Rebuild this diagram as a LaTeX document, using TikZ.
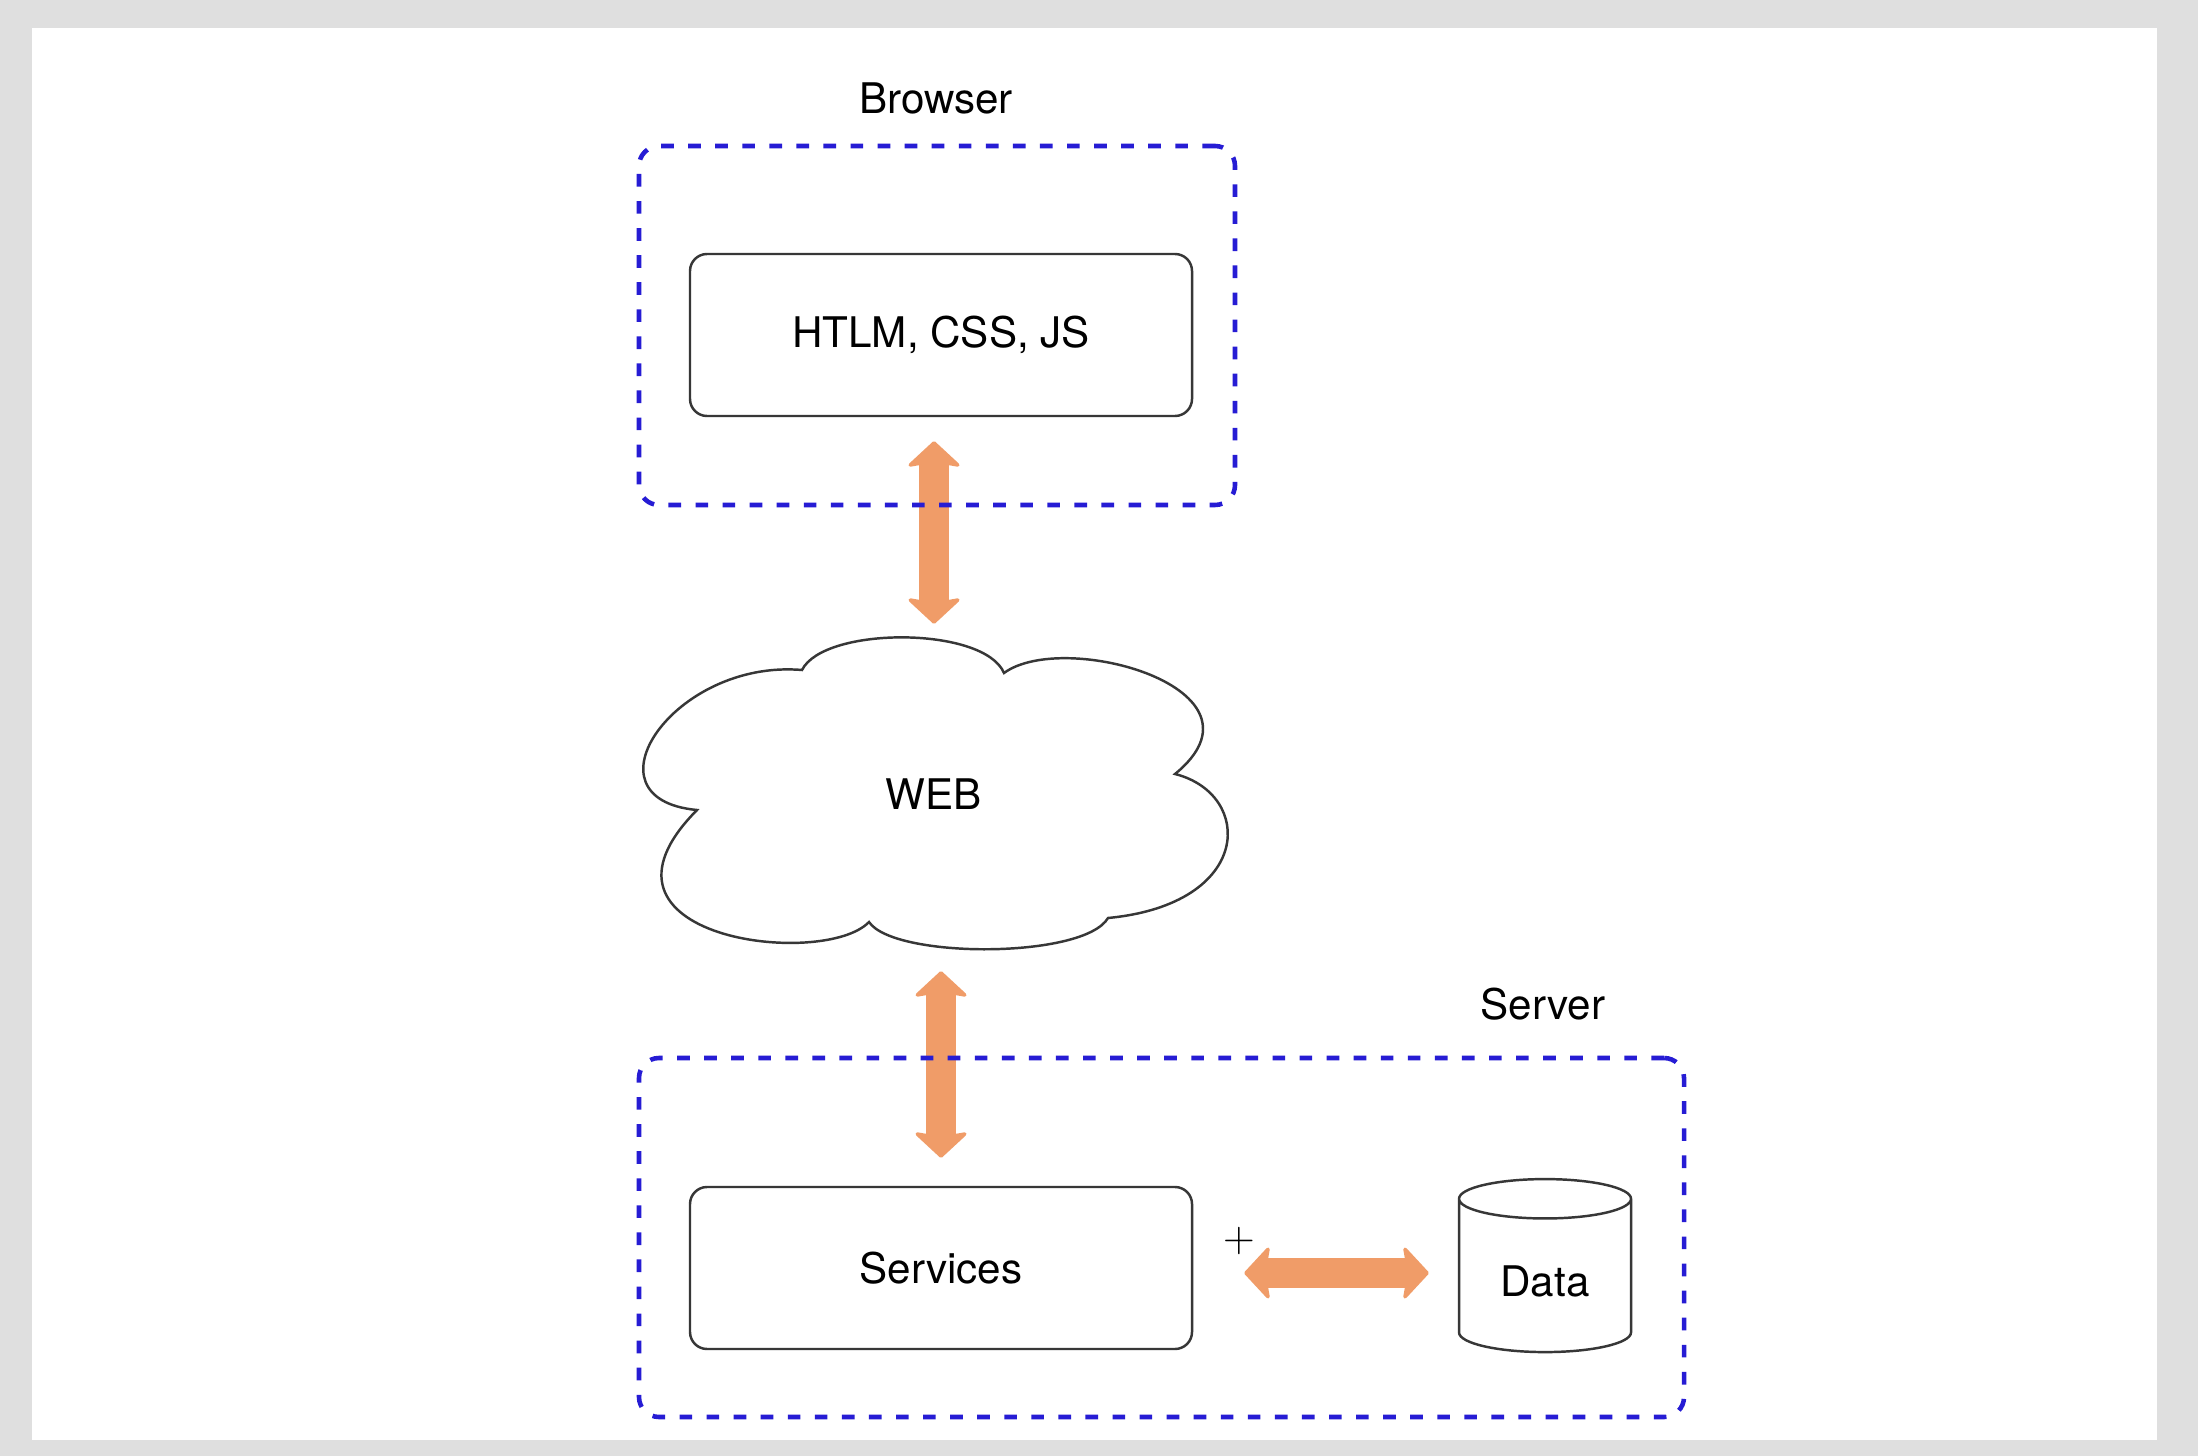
\documentclass[tikz,border=0pt]{standalone}
\usepackage{fontspec}
\setmainfont{TeX Gyre Heros}
\usetikzlibrary{arrows.meta,positioning,shapes.geometric}

\definecolor{pagegray}{RGB}{223,223,223}
\definecolor{linkorange}{RGB}{240,156,104}
\definecolor{zoneblue}{RGB}{38,28,212}
\definecolor{boxline}{RGB}{55,55,55}

\begin{document}
\begin{tikzpicture}[>={Stealth[length=0.27cm,width=0.58cm,inset=0.05cm,round,line width=1pt]},
  font=\fontsize{12}{14}\selectfont,node distance=2cm,
  layer/.style={draw=boxline,line width=0.7pt,rounded corners=0.17cm,minimum width=5.02cm,minimum height=1.62cm},
  net/.style={minimum width=5.86cm,minimum height=3.11cm},
  store/.style={draw=boxline,line width=0.7pt,cylinder,shape border rotate=90,aspect=0.35,minimum width=1.72cm,minimum height=1.73cm},
  zone/.style={draw=zoneblue,line width=1.3pt,dash pattern=on 3.6pt off 4.1pt,rounded corners=0.2cm,inner sep=0pt},
  link/.style={<->,color=linkorange,line width=0.3cm}]
\fill[pagegray] (0,0) rectangle (21.98,-14.56);
\fill[white] (0.32,-0.28) rectangle (21.57,-14.40);
\useasboundingbox (0,0) rectangle (21.98,-14.56);

\node[layer] (html) at (9.41,-3.35) {HTLM, CSS, JS};
\node[net] (web) [below of=html,node distance=4.59cm,xshift=-0.07cm] {WEB};
\node[layer] (services) at (9.41,-12.68) {Services};
\node[store] (data) [right of=services,node distance=6.04cm,yshift=-0.13cm] {Data};
\node[font=\fontsize{13}{13}\selectfont] (cursor) at (12.39,-12.41) {$+$};

% cloud outline round the web node
\draw[boxline,line width=0.7pt,shift={(web.center)}]
  (-2.37,-0.16) .. controls (-3.55,-0.05) and (-2.6,1.35) .. (-1.32,1.24)
  .. controls (-1.1,1.68) and (0.5,1.68) .. (0.70,1.21)
  .. controls (1.3,1.65) and (3.45,1.05) .. (2.41,0.20)
  .. controls (3.2,0.0) and (3.2,-1.1) .. (1.74,-1.24)
  .. controls (1.5,-1.65) and (-0.4,-1.65) .. (-0.65,-1.28)
  .. controls (-1.1,-1.75) and (-3.65,-1.45) .. (-2.37,-0.16) -- cycle;

\draw[link,shorten <=0.14cm,shorten >=0.24cm] (web.north) -- (web.north |- html.south);
\draw[link,shorten <=0.28cm,shorten >=0.21cm] (services.north) -- (services.north |- web.south);
\draw[link,shorten <=0.51cm,shorten >=0.29cm] ([yshift=-0.05cm]services.east) -- ([yshift=-0.05cm]services.east -| data.west);

\node[zone,minimum width=5.96cm,minimum height=3.59cm] (browserbox) at (9.37,-3.255) {};
\node[zone,minimum width=10.45cm,minimum height=3.59cm] (serverbox) at (11.615,-12.375) {};
\node (browser) at (9.36,-0.98) {Browser};
\node (server) at (15.43,-10.04) {Server};

\end{tikzpicture}
\end{document}
